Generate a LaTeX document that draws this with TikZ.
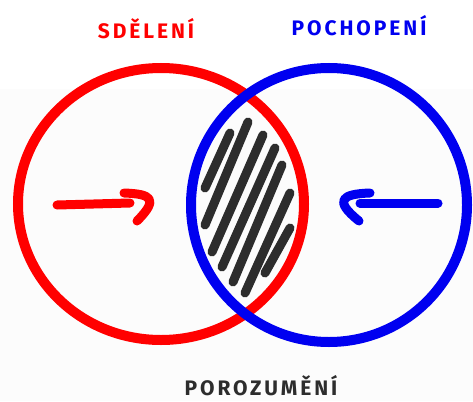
\documentclass[tikz,border=0pt]{standalone}
\usepackage{fontspec}
\setmainfont{Fira Sans}
\usepackage{tikz}
\usetikzlibrary{positioning}
\definecolor{penred}{RGB}{255,0,0}
\definecolor{penblue}{RGB}{0,0,240}
\definecolor{pengray}{RGB}{45,45,45}
\definecolor{paper}{RGB}{252,252,252}
\tikzset{
  ring/.style={line width=10pt},
  pen/.style={line width=9pt,line cap=round,line join=round},
  word/.style={font=\fontsize{21}{23}\selectfont\bfseries\addfontfeature{LetterSpace=14},
    inner sep=0pt,anchor=base}
}

\begin{document}
\begin{tikzpicture}[x=1pt,y=-1pt]
\useasboundingbox (0,0) rectangle (473,401);
\fill[white] (0,0) rectangle (473,89);
\fill[paper] (0,89) rectangle (473,401);
% hatching of the overlap
\foreach \xa/\ya/\xb/\yb in {205/188/230/133,205/225/248/122,212/252/263/135,222/267/275/148,
  233/282/282/165,245/293/290/193,265/273/290/228}{
  \draw[pen,pengray] (\xa,\ya)--(\xb,\yb);
}
\draw[ring,penred] (161,204) ellipse [x radius=143,y radius=136];
\draw[ring,penblue] (329,205) ellipse [x radius=138,y radius=137];
% arrows
\draw[pen,penred] (57,205)--(130,203);
\draw[pen,penred] (124,193)..controls (150,194) and (160,198)..(137,221);
\draw[pen,penblue] (438,203)--(360,203);
\draw[pen,penblue] (370,193)..controls (342,194) and (333,200)..(359,221);
% labels
\node[word,text=penred] (send) at (146,39) {SDĚLENÍ};
\node[word,text=penblue] (grasp) at (359,36) {POCHOPENÍ};
\node[word,text=pengray] (meet) at (261,395) {POROZUMĚNÍ};
\end{tikzpicture}
\end{document}
